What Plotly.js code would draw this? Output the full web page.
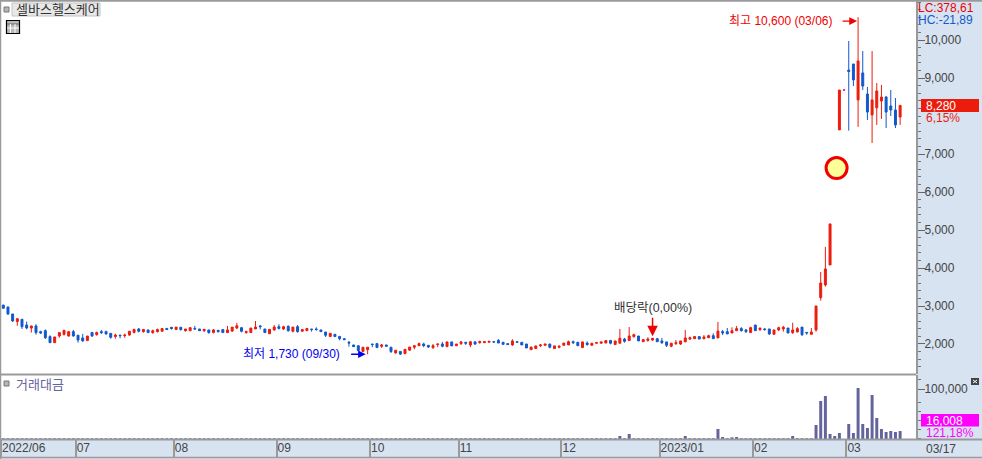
<!DOCTYPE html>
<html><head><meta charset="utf-8">
<script src="https://cdn.plot.ly/plotly-3.0.1.min.js"></script>
<style>html,body{margin:0;padding:0;background:#fff}#c{width:982px;height:459px}</style>
</head><body><div id="c"></div>
<script>
const open=[3025,2975,2790,2590,2650,2500,2420,2475,2325,2350,2195,2035,2210,2255,2210,2325,2230,2160,2090,2305,
2245,2325,2325,2280,2195,2235,2220,2235,2305,2395,2325,2370,2300,2325,2335,2410,2440,2380,2440,2350,
2350,2410,2395,2350,2370,2305,2360,2380,2300,2340,2420,2430,2300,2300,2395,2475,2395,2270,2370,2455,
2395,2465,2335,2455,2335,2350,2395,2395,2370,2315,2195,2255,2200,2140,2045,1975,1955,1800,1850,2000,
2010,1940,1975,1915,1765,1805,1745,1835,1915,1955,2000,1965,1905,1985,2000,1930,2055,1955,2010,2045,
1975,2055,2035,2035,2045,2060,2095,2045,2010,1975,2060,2045,2000,1850,1880,1955,1965,2000,1880,1915,
1965,1975,2060,2045,1905,2025,1965,2020,2020,2025,2095,1985,2020,2130,2090,2195,2210,2060,2095,2105,
2140,2080,2055,1940,2010,2000,2055,2130,2140,2195,2140,2165,2220,2160,2325,2325,2290,2350,2405,2370,
2300,2500,2380,2395,2395,2255,2370,2395,2420,2300,2315,2445,2305,2255,2370,3220,3555,4080,null,7635,
null,9210,9370,8425,9135,8580,8030,8215,8395,8500,8265,8160,7975];
const high=[3025,2975,2790,2675,2650,2590,2475,2520,2350,2385,2230,2185,2300,2360,2325,2370,2230,2265,2210,2305,
2325,2370,2350,2280,2270,2235,2270,2335,2405,2420,2395,2370,2380,2405,2405,2410,2440,2445,2440,2395,
2430,2475,2395,2385,2370,2395,2360,2380,2475,2445,2555,2430,2350,2420,2605,2500,2395,2385,2500,2520,
2480,2490,2445,2500,2380,2410,2395,2440,2370,2315,2280,2255,2200,2140,2080,1975,1955,1915,1915,2000,
2010,2000,1975,1915,1835,1805,1860,1920,1955,2035,2035,1965,2000,2000,2055,2055,2055,2000,2080,2045,
2060,2080,2090,2060,2070,2060,2130,2045,2010,2125,2060,2045,2000,1920,1950,2000,2000,2000,1950,1965,
2025,2090,2090,2045,2055,2070,2020,2055,2055,2090,2095,2080,2395,2160,2445,2270,2210,2115,2175,2150,
2140,2160,2055,2020,2105,2080,2370,2195,2195,2195,2235,2245,2280,2580,2370,2420,2440,2475,2445,2395,
2455,2500,2420,2420,2395,2370,2455,2475,2420,2560,2445,2445,2305,2420,3000,3895,4555,5160,null,8685,
null,9975,9370,10600,9710,8765,9710,8870,8820,8530,8685,8475,8280];
const low=[2940,2765,2580,2480,2395,2385,2300,2245,2265,2130,2035,2035,2165,2220,2195,2195,2035,2060,2090,2185,
2220,2265,2245,2140,2140,2150,2165,2220,2280,2305,2300,2300,2270,2305,2335,2380,2380,2380,2350,2325,
2350,2370,2350,2315,2270,2280,2300,2300,2300,2315,2395,2305,2270,2300,2395,2385,2300,2270,2350,2385,
2370,2325,2305,2300,2335,2350,2325,2350,2325,2185,2195,2195,2095,2115,1930,1930,1825,1800,1730,1915,
1905,1895,1940,1765,1745,1710,1745,1835,1860,1955,1915,1895,1870,1915,1915,1930,1950,1955,1975,1975,
1915,1975,2010,2035,2045,2025,2025,1990,1985,1950,2045,1975,1895,1850,1880,1920,1965,1885,1880,1885,
1965,1975,2000,1955,1905,1955,1965,2020,2020,2025,1990,1985,2020,2035,2090,2165,2080,2060,2060,2080,
2060,2000,1920,1915,1975,1975,2055,2105,2140,2130,2125,2165,2140,2160,2235,2265,2290,2350,2325,2290,
2300,2350,2340,2350,2235,2255,2340,2325,2290,2265,2315,2210,2245,2255,2325,3140,3510,4080,null,7635,
null,7615,8790,7715,8685,7895,7290,7765,7925,7685,8000,7685,7765];
const close=[2940,2790,2605,2665,2455,2420,2475,2300,2290,2165,2035,2185,2300,2360,2325,2210,2105,2080,2210,2210,
2300,2300,2265,2175,2235,2220,2235,2335,2380,2335,2380,2300,2350,2380,2405,2380,2405,2445,2380,2395,
2430,2395,2350,2385,2300,2370,2325,2300,2370,2445,2480,2335,2325,2420,2445,2455,2300,2385,2445,2410,
2455,2350,2445,2325,2380,2410,2380,2380,2325,2230,2280,2195,2140,2115,2025,1930,1825,1915,1915,1985,
1905,1975,1940,1800,1835,1735,1860,1920,1955,2010,1955,1920,1955,2000,1940,2055,1950,2000,2055,2020,
2060,2000,2060,2060,2070,2055,2025,1990,1985,2080,2045,1975,1895,1920,1950,1975,2000,1915,1950,1940,
2025,2060,2035,1955,2055,1985,2020,2035,2055,2090,2020,2080,2150,2070,2210,2245,2080,2115,2130,2150,
2060,2035,1965,2020,2035,2080,2160,2165,2195,2130,2185,2220,2140,2340,2290,2265,2350,2405,2350,2325,
2430,2350,2420,2380,2265,2370,2430,2440,2290,2370,2405,2245,2290,2315,3000,3605,3975,5160,null,8685,
null,9170,8950,9450,8790,8105,8425,8660,8500,8105,8160,7765,8280];
const flatDays=[178,180];
const flatPrices=[6690,8685];
const turnover=[1500,1500,1500,1500,1500,1500,1500,1500,1500,1500,1500,1500,1500,1500,1500,1500,1500,1500,1500,1500,
1500,1500,1500,1500,1500,1500,1500,1500,1500,1500,1500,1500,1500,1500,1500,1500,1500,1500,1500,1500,
1500,1500,1500,1500,1500,1500,1500,1500,1500,1500,1500,1500,1500,1500,1500,1500,1500,1500,1500,1500,
1500,1500,1500,1500,1500,1500,1500,1500,1500,1500,1500,1500,1500,1500,1500,1500,1500,1500,1500,1500,
1500,1500,1500,1500,1500,1500,1500,1500,1500,1500,1500,1500,1500,1500,1500,1500,1500,1500,1500,1500,
1500,1500,1500,1500,1500,1500,1500,1500,1500,1500,1500,1500,1500,1500,1500,1500,1500,1500,1500,1500,
1500,1500,1500,1500,1500,1500,1500,1500,1500,1500,1500,1500,6000,1500,10060,1500,1500,1500,1500,1500,
1500,1500,1500,1500,1500,1500,6000,1500,1500,1500,1500,1500,1500,20120,4000,1500,3350,4000,1500,1500,
1500,1500,1500,1500,1500,1500,1500,1500,1500,6000,1500,1500,1500,1500,28170,76460,86520,10060,6040,12070,
0,30180,12070,102600,30180,22130,88530,42250,20120,14080,16100,14080,16008];
const monthTicks=[-0.5,15.5,36.5,58.5,78.5,97.5,119.5,140.5,160.5,180.5];
const monthLabels=["2022/06","07","08","09","10","11","12","2023/01","02","03"];
const priceTicks=[2000,3000,4000,5000,6000,7000,9000,10000];
const turnoverTicks=[100000];
const turnoverMinor=[118700,73800,55700,37600,19500,1340];
const viDay=[178.4];
const viPrice=[6630];

const days=open.map((_,i)=>i);
const W=982,H=459;
const px=v=>v/W, py=v=>1-v/H;
const RED='#EC1C0C',BLUE='#1258CC',VOL='#64649C',PINK='#F0148C',GRID='#9A9A9A',INK='#444444';
const FONT='"Liberation Sans","Noto Sans CJK KR",sans-serif';
const box=(x0,y0,x1,y1,fill,line,lw)=>({type:'rect',xref:'paper',yref:'paper',x0:px(x0),x1:px(x1),y0:py(y1),y1:py(y0),fillcolor:fill,line:{color:line||fill,width:lw===undefined?0:lw},layer:'above'});
const seg=(x0,y0,x1,y1,c,w)=>({type:'line',xref:'paper',yref:'paper',x0:px(x0),x1:px(x1),y0:py(y0),y1:py(y1),line:{color:c,width:w},layer:'above'});
const txt=(x,y,t,c,s,anchor,extra)=>Object.assign({xref:'paper',yref:'paper',x:px(x),y:py(y),text:t,showarrow:false,xanchor:anchor||'left',yanchor:'middle',font:{family:FONT,size:s||12,color:c},borderpad:0},extra||{});

const traces=[
 {type:'bar',x:days,y:turnover,xaxis:'x',yaxis:'y2',marker:{color:VOL,line:{width:0}},width:0.64,hoverinfo:'skip'},
 {type:'scatter',mode:'markers',x:viDay,y:viPrice,xaxis:'x',yaxis:'y',marker:{symbol:'circle',size:21,color:'#FFFF99',line:{color:'#F00000',width:3}},hoverinfo:'skip'},
 {type:'candlestick',x:days,open:open,high:high,low:low,close:close,xaxis:'x',yaxis:'y',whiskerwidth:0,
  increasing:{line:{color:RED,width:1},fillcolor:RED},decreasing:{line:{color:BLUE,width:1},fillcolor:BLUE},hoverinfo:'skip'},
 {type:'candlestick',x:flatDays,open:flatPrices,high:flatPrices,low:flatPrices,close:flatPrices,xaxis:'x',yaxis:'y',whiskerwidth:0,
  increasing:{line:{color:PINK,width:1},fillcolor:PINK},decreasing:{line:{color:PINK,width:1},fillcolor:PINK},hoverinfo:'skip'}
];

const tableIcon=[box(6.5,20.5,19.5,33.5,'#B8B8B8','#000',1.2),seg(7,24,19,24,'#666',1),seg(7,28,19,28,'#FFF',1),seg(10.5,24,10.5,33,'#FFF',1),seg(15,24,15,33,'#FFF',1)];
const layout={
 width:W,height:H,margin:{l:0,r:0,t:0,b:0,pad:0},showlegend:false,
 paper_bgcolor:'#D7E3F1',plot_bgcolor:'#FFFFFF',
 font:{family:FONT,size:12,color:INK},boxgap:0.4,bargap:0.36,
 xaxis:{domain:[0,916/W],anchor:'y2',range:[-0.706,195.4],rangeslider:{visible:false},showgrid:false,zeroline:false,
   tickmode:'array',tickvals:monthTicks,ticktext:monthLabels,ticks:'outside',ticklen:18,tickwidth:2,tickcolor:GRID,
   ticklabelposition:'outside right',ticklabelstandoff:-2,tickfont:{family:FONT,size:12,color:INK},showline:false},
 yaxis:{domain:[py(374),py(1)],anchor:'x',side:'right',range:[1210,11028],showgrid:false,zeroline:false,
   tickmode:'array',tickvals:priceTicks,tickformat:',d',ticks:'outside',ticklen:7,tickwidth:1,tickcolor:'#666',ticklabelstandoff:-3,
   tickfont:{family:FONT,size:12,color:INK},showline:true,linecolor:GRID,linewidth:2,
   minor:{dtick:200,tick0:0,ticks:'outside',ticklen:3,tickwidth:1,tickcolor:'#777',showgrid:false}},
 yaxis2:{domain:[py(439),py(375)],anchor:'x',side:'right',range:[0,128700],showgrid:false,zeroline:false,
   tickmode:'array',tickvals:turnoverTicks,tickformat:',d',ticks:'outside',ticklen:7,tickwidth:1,tickcolor:'#666',ticklabelstandoff:-3,
   tickfont:{family:FONT,size:12,color:INK},showline:true,linecolor:GRID,linewidth:2,
   minor:{tickmode:'array',tickvals:turnoverMinor,ticks:'outside',ticklen:3,tickwidth:1,tickcolor:'#777',showgrid:false}},
 shapes:[
  seg(0,0.7,W,0.7,GRID,2),seg(0.5,0,0.5,H,GRID,1.5),
  seg(0,374.5,916,374.5,GRID,2),seg(0,439.5,W,439.5,GRID,2),seg(0,457.5,W,457.5,GRID,1.5),
  box(4,7,9,12,'#B5B5B5','#777',1),box(4,381,9,386,'#B5B5B5','#777',1),
  box(12,3,100,16,'#E8E8E8','#C4C4C4',1),...tableIcon,
  box(921,99,979,112,'#EC1C0C'),box(921,414,979,426.5,'#FF00FF'),
  box(971,378,979,385,'#444444'),seg(973,380,977,383,'#FFF',1),seg(973,383,977,380,'#FFF',1)
 ],
 annotations:[
  txt(15,10,'셀바스헬스케어','#333333',13),
  txt(15,384,'거래대금',VOL,13),
  txt(917,7.5,'LC:378,61','#F00000',12),
  txt(917,20.5,'HC:-21,89','#1258CC',12),
  txt(925,105.5,'8,280','#FFFFFF',12),
  txt(925,117.5,'6,15%','#EC1C0C',12),
  txt(925,420.5,'16,008','#FFFFFF',12),
  txt(925,432.5,'121,18%','#FF00FF',12),
  txt(925,449,'03/17',INK,12),
  {xref:'x',yref:'y',x:183,y:10500,xshift:-24,text:'최고 10,600 (03/06)',showarrow:false,xanchor:'right',yanchor:'middle',font:{family:FONT,size:12,color:'#F00000'}},
  {xref:'x',yref:'y',x:183,y:10500,xshift:-1,ax:-16,ay:0,axref:'pixel',ayref:'pixel',text:'',showarrow:true,arrowhead:2,arrowsize:1.3,arrowwidth:1.2,arrowcolor:'#F00000',standoff:0},
  {xref:'x',yref:'y',x:78,y:1730,xshift:-26,text:'최저 1,730 (09/30)',showarrow:false,xanchor:'right',yanchor:'middle',font:{family:FONT,size:12,color:'#0000F0'}},
  {xref:'x',yref:'y',x:78,y:1730,xshift:-2,ax:-16,ay:0,axref:'pixel',ayref:'pixel',text:'',showarrow:true,arrowhead:2,arrowsize:1,arrowwidth:1.5,arrowcolor:'#0000F0',standoff:0},
  {xref:'x',yref:'y',x:139,y:2150,yshift:30,text:'배당락(0,00%)',showarrow:false,xanchor:'center',yanchor:'middle',font:{family:FONT,size:12.5,color:'#333333'}},
  {xref:'x',yref:'y',x:139,y:2150,yshift:2,ax:0,ay:-20,axref:'pixel',ayref:'pixel',text:'',showarrow:true,arrowhead:2,arrowsize:1.4,arrowwidth:1.5,arrowcolor:'#F00000',standoff:0}
 ]
};
Plotly.newPlot('c',traces,layout,{displayModeBar:false,staticPlot:true});
</script>
</body></html>
